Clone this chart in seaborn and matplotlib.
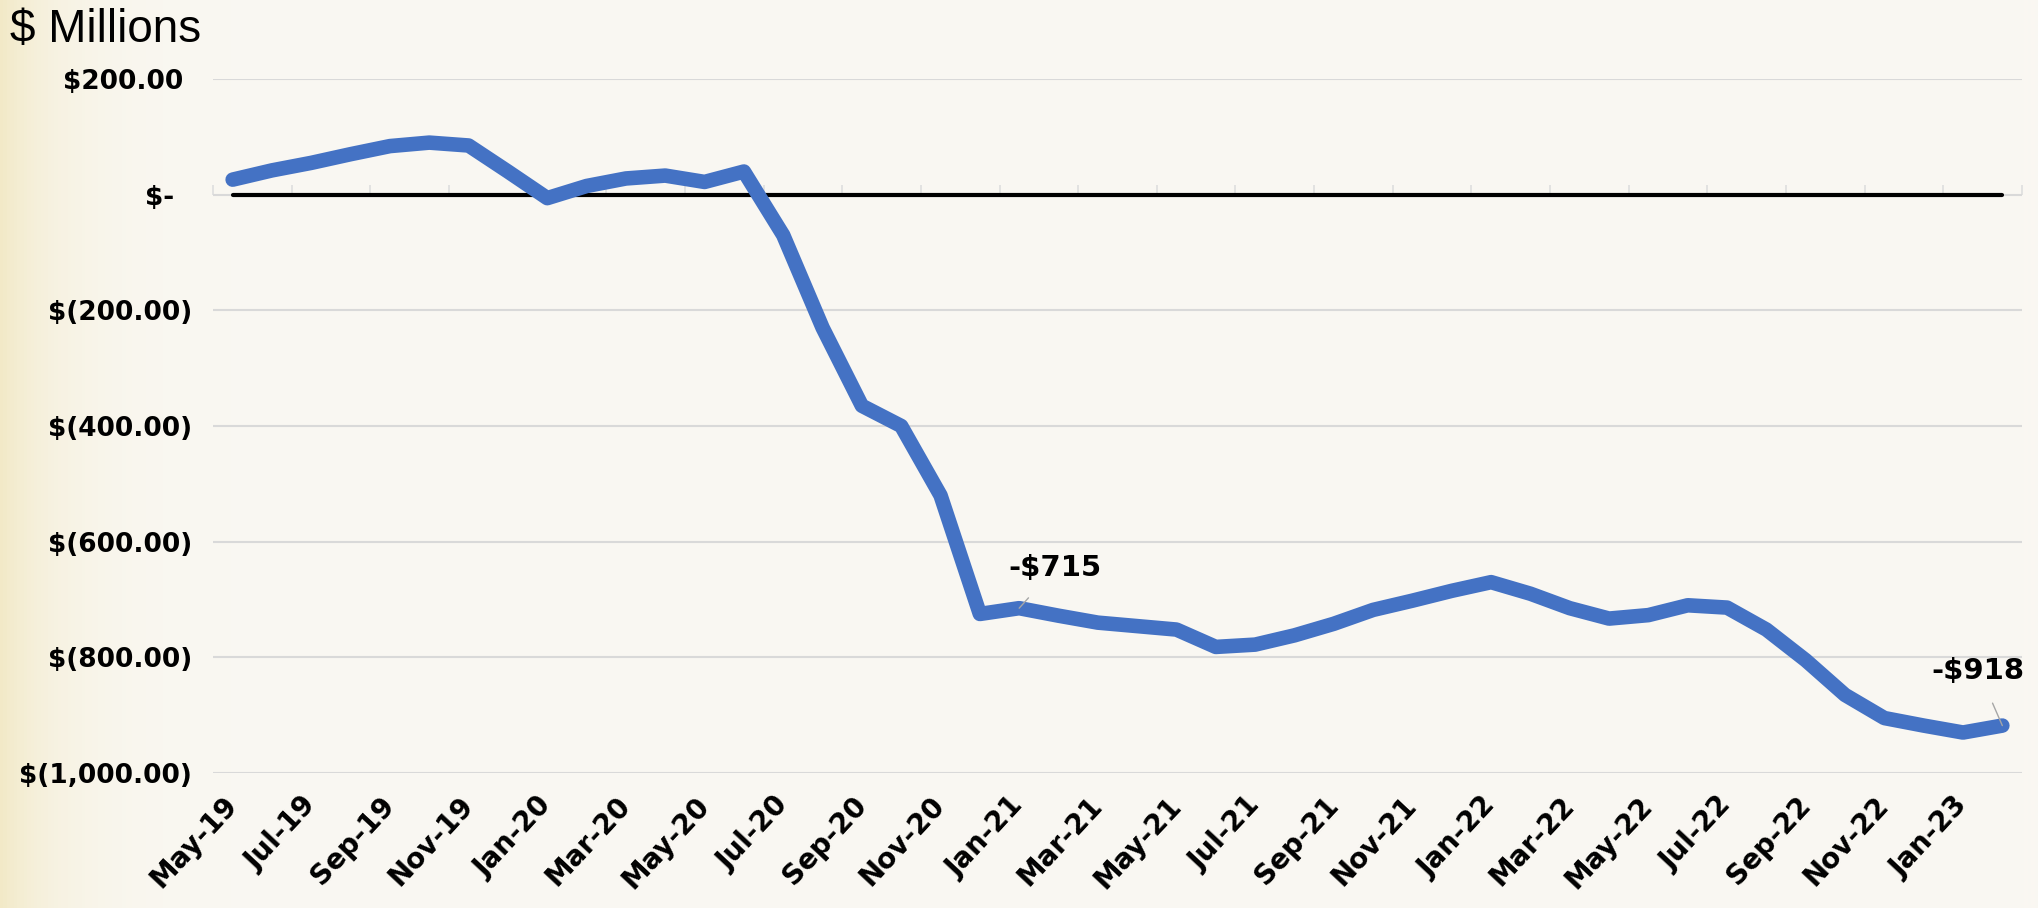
import numpy as np
import pandas as pd
import matplotlib.pyplot as plt
import seaborn as sns

# monthly balance, $ millions
months = ["May-19", "Jun-19", "Jul-19", "Aug-19", "Sep-19", "Oct-19", "Nov-19", "Dec-19",
          "Jan-20", "Feb-20", "Mar-20", "Apr-20", "May-20", "Jun-20", "Jul-20", "Aug-20",
          "Sep-20", "Oct-20", "Nov-20", "Dec-20", "Jan-21", "Feb-21", "Mar-21", "Apr-21",
          "May-21", "Jun-21", "Jul-21", "Aug-21", "Sep-21", "Oct-21", "Nov-21", "Dec-21",
          "Jan-22", "Feb-22", "Mar-22", "Apr-22", "May-22", "Jun-22", "Jul-22", "Aug-22",
          "Sep-22", "Oct-22", "Nov-22", "Dec-22", "Jan-23", "Feb-23"]
balance = [26, 42, 55, 70, 84, 90, 85, 40,
           -6, 15, 28, 33, 22, 40, -70, -230,
           -365, -400, -520, -725, -715, -728, -740, -746,
           -752, -782, -778, -762, -742, -718, -702, -685,
           -670, -690, -715, -733, -727, -710, -714, -752,
           -805, -865, -905, -918, -930, -918]

ytick_values = [200, 0, -200, -400, -600, -800, -1000]
ytick_labels = ["$200.00 ", "$-  ", "$(200.00)", "$(400.00)", "$(600.00)",
                "$(800.00)", "$(1,000.00)"]

callout_months = ["Jan-21", "Feb-23"]
callout_text = ["-$715", "-$918"]
callout_offsets = [(36, 40), (-24, 55)]  # pixels from the point

df = pd.DataFrame({"month": months, "balance": balance})
df["idx"] = range(len(df))
df["zero"] = 0

sns.set_theme(style="white")
plt.rcParams["font.family"] = ["DejaVu Sans"]
plt.rcParams["text.color"] = "black"
plt.rcParams["xtick.color"] = "black"
plt.rcParams["ytick.color"] = "black"

fig = plt.figure(figsize=(20.38, 9.08), dpi=100)
fig.patch.set_facecolor("#faf8f3")

# paper background with a yellowish left edge
bg = fig.add_axes([0, 0, 1, 1], zorder=-10)
xx = np.linspace(0, 1, 600)
fade = 0.85 * np.exp(-xx / 0.03)
base = np.array([250, 248, 243]) / 255
edge = np.array([241, 231, 192]) / 255
row = base[None, :] * (1 - fade[:, None]) + edge[None, :] * fade[:, None]
bg.imshow(np.repeat(row[None, :, :], 10, axis=0), aspect="auto", extent=[0, 1, 0, 1])
bg.set_axis_off()

ax = fig.add_axes([213 / 2038, (908 - 773) / 908, (2022 - 213) / 2038, (773 - 79) / 908])
ax.set_facecolor("none")

sns.lineplot(data=df, x="idx", y="zero", color="black", linewidth=3, ax=ax, zorder=3)
sns.lineplot(data=df, x="idx", y="balance", color="#4472c4", linewidth=10.5, ax=ax,
             zorder=4, solid_capstyle="round", solid_joinstyle="round", clip_on=False)

ax.set_xlim(-0.5, len(months) - 0.5)
ax.set_ylim(-1000, 200)
ax.set_yticks(ytick_values)
ax.set_yticklabels(ytick_labels, fontsize=19, fontweight="bold")
ax.tick_params(axis="y", length=0, pad=15)
ax.grid(axis="y", color="#d9d9d9", linewidth=1.5)
ax.grid(axis="x", visible=False)
for s in ax.spines.values():
    s.set_visible(False)

ax.set_xticks(df["idx"][::2])
ax.set_xticklabels(df["month"][::2], rotation=47, ha="right", va="center",
                   rotation_mode="anchor", fontsize=20, fontweight="bold")
ax.tick_params(axis="x", length=0, pad=20)
ax.set_xlabel("")
ax.set_ylabel("")

# faint category tick marks on the zero axis
sec = ax.secondary_xaxis(1000 / 1200)
sec.set_xticks(np.arange(-0.5, len(months), 2))
sec.set_xticklabels([])
sec.tick_params(axis="x", direction="out", length=7, color="#dedede", width=1.2)
sec.spines["bottom"].set_visible(False)
sec.spines["top"].set_visible(False)

for m, t, off in zip(callout_months, callout_text, callout_offsets):
    i = months.index(m)
    ax.annotate(t, xy=(i, balance[i]), xytext=off, textcoords="offset pixels",
                ha="center", va="center", fontsize=21, fontweight="bold", zorder=6,
                arrowprops=dict(arrowstyle="-", color="#a6a6a6", lw=1,
                                shrinkA=12, shrinkB=0))

fig.text(10 / 2038, 1 - 8 / 908, "$ Millions", ha="left", va="top",
         fontsize=33, family=["Liberation Sans", "DejaVu Sans"])

fig.savefig("out.png", dpi=100, facecolor=fig.get_facecolor())
